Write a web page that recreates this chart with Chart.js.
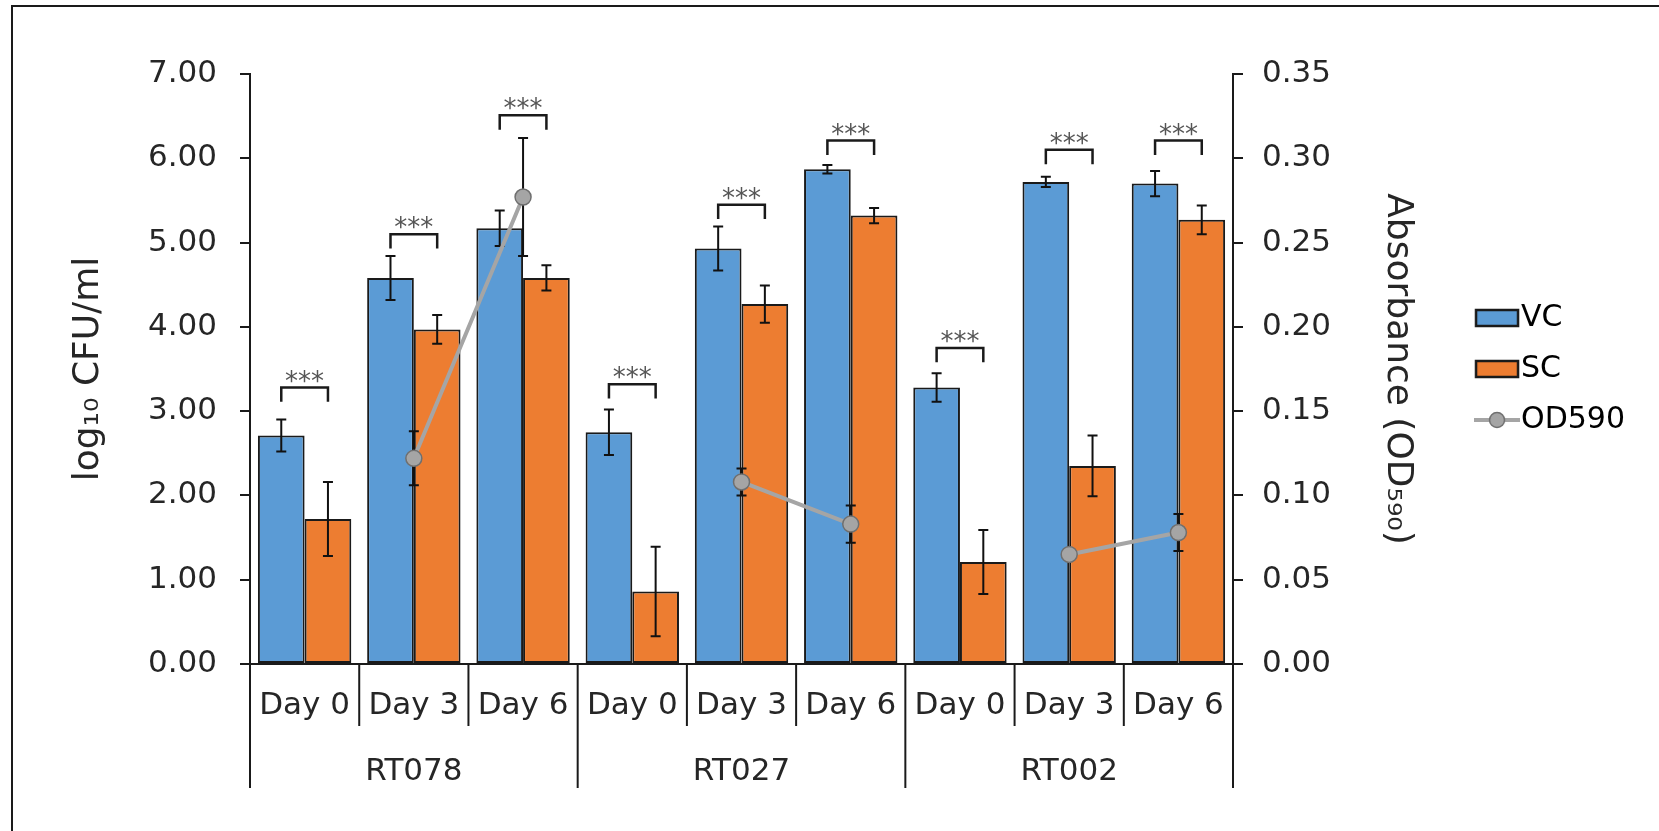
<!DOCTYPE html>
<html>
<head>
<meta charset="utf-8">
<script src="https://cdn.jsdelivr.net/npm/chart.js@4"></script>
<style>
  body { margin: 0; background: #fff; }
  #wrap { position: relative; width: 1659px; height: 831px; }
  #frame { position: absolute; left: 11px; top: 5px; width: 1648px; height: 826px;
           border-left: 2px solid #1a1a1a; border-top: 2px solid #1a1a1a; box-sizing: border-box; }
  canvas { position: absolute; left: 0; top: 0; }
</style>
</head>
<body>
<div id="wrap">
  <div id="frame"></div>
  <canvas id="chart" width="1659" height="831"></canvas>
</div>
<script>
const CATEGORIES = ['Day 0', 'Day 3', 'Day 6', 'Day 0', 'Day 3', 'Day 6', 'Day 0', 'Day 3', 'Day 6'];
const GROUPS = ['RT078', 'RT027', 'RT002'];

// log10 CFU/ml
const VC_MEAN = [2.71, 4.58, 5.17, 2.75, 4.93, 5.87, 3.28, 5.72, 5.70];
const VC_ERR  = [0.19, 0.26, 0.21, 0.27, 0.26, 0.05, 0.17, 0.06, 0.15];
const SC_MEAN = [1.72, 3.97, 4.58, 0.86, 4.27, 5.32, 1.21, 2.35, 5.27];
const SC_ERR  = [0.44, 0.17, 0.15, 0.53, 0.22, 0.09, 0.38, 0.36, 0.17];

// OD590 (right axis)
const OD_MEAN = [null, 0.122, 0.277, null, 0.108, 0.083, null, 0.065, 0.078];
const OD_ERR  = [0, 0.016, 0.035, 0, 0.008, 0.011, 0, 0, 0.011];

// significance brackets (top of bracket, left axis units)
const SIG_TOP   = [3.28, 5.10, 6.51, 3.32, 5.45, 6.21, 3.75, 6.10, 6.21];
const SIG_LABEL = ['***', '***', '***', '***', '***', '***', '***', '***', '***'];

const BLUE = '#5B9BD5';
const ORANGE = '#ED7D31';
const GREY = '#A5A5A5';
const INK = '#262626';
const FONT = 'DejaVu Sans';

Chart.defaults.font.family = FONT;
Chart.defaults.color = INK;

function makeIcon(kind) {
    const c = document.createElement('canvas');
    c.width = 46; c.height = 22;
    const g = c.getContext('2d');
    if (kind === 'line') {
        g.strokeStyle = GREY; g.lineWidth = 4;
        g.beginPath(); g.moveTo(0, 11); g.lineTo(46, 11); g.stroke();
        g.fillStyle = GREY; g.strokeStyle = '#6f6f6f'; g.lineWidth = 1.5;
        g.beginPath(); g.arc(23, 11, 7.5, 0, Math.PI * 2); g.fill(); g.stroke();
    } else {
        g.fillStyle = kind;
        g.fillRect(2, 3, 42, 16);
        g.strokeStyle = '#1a1a1a'; g.lineWidth = 2.5;
        g.strokeRect(2, 3, 42, 16);
    }
    return c;
}

const icons = [makeIcon(BLUE), makeIcon(ORANGE), makeIcon('line')];

function drawErr(ctx, x, yTop, yBot) {
    ctx.beginPath();
    ctx.moveTo(x, yTop); ctx.lineTo(x, yBot);
    ctx.moveTo(x - 5, yTop); ctx.lineTo(x + 5, yTop);
    ctx.moveTo(x - 5, yBot); ctx.lineTo(x + 5, yBot);
    ctx.stroke();
}

const extrasPlugin = {
    id: 'extras',
    beforeDatasetDraw(chart, args) {
        // OD error bars sit under the line points
        if (args.index !== 2) return;
        const ctx = chart.ctx;
        const y2 = chart.scales.y2;
        const meta = chart.getDatasetMeta(2);
        ctx.save();
        ctx.strokeStyle = '#111'; ctx.lineWidth = 2;
        OD_MEAN.forEach((v, i) => {
            if (v === null || !OD_ERR[i]) return;
            drawErr(ctx, meta.data[i].x, y2.getPixelForValue(v + OD_ERR[i]), y2.getPixelForValue(v - OD_ERR[i]));
        });
        ctx.restore();
    },
    afterDatasetDraw(chart, args) {
        if (args.index > 1) return;
        const ctx = chart.ctx;
        const y = chart.scales.y;
        const meta = chart.getDatasetMeta(args.index);
        const means = args.index === 0 ? VC_MEAN : SC_MEAN;
        const errs = args.index === 0 ? VC_ERR : SC_ERR;
        ctx.save();
        ctx.strokeStyle = '#111'; ctx.lineWidth = 2;
        means.forEach((v, i) => {
            drawErr(ctx, meta.data[i].x, y.getPixelForValue(v + errs[i]), y.getPixelForValue(v - errs[i]));
        });
        ctx.restore();
    },
    afterDraw(chart) {
        const ctx = chart.ctx;
        const xs = chart.scales.x;
        const y = chart.scales.y;
        const vcMeta = chart.getDatasetMeta(0);
        const scMeta = chart.getDatasetMeta(1);
        ctx.save();

        // significance brackets
        ctx.strokeStyle = '#1a1a1a'; ctx.lineWidth = 2.5;
        ctx.fillStyle = '#555';
        ctx.font = '26px ' + FONT;
        ctx.textAlign = 'center'; ctx.textBaseline = 'alphabetic';
        SIG_TOP.forEach((top, i) => {
            const x1 = vcMeta.data[i].x, x2 = scMeta.data[i].x;
            const yt = y.getPixelForValue(top), yb = y.getPixelForValue(top - 0.17);
            ctx.beginPath();
            ctx.moveTo(x1, yb); ctx.lineTo(x1, yt); ctx.lineTo(x2, yt); ctx.lineTo(x2, yb);
            ctx.stroke();
            ctx.fillText(SIG_LABEL[i], (x1 + x2) / 2, yt + 2);
        });

        // category separators and group labels
        const n = CATEGORIES.length;
        const bounds = [];
        for (let i = 0; i <= n; i++) {
            if (i === 0) bounds.push(xs.left);
            else if (i === n) bounds.push(xs.right);
            else bounds.push((xs.getPixelForValue(i - 1) + xs.getPixelForValue(i)) / 2);
        }
        const base = chart.chartArea.bottom;
        ctx.strokeStyle = '#1a1a1a'; ctx.lineWidth = 2;
        bounds.forEach((bx, i) => {
            ctx.beginPath();
            ctx.moveTo(bx, base);
            ctx.lineTo(bx, base + (i % 3 === 0 ? 124 : 62));
            ctx.stroke();
        });
        ctx.fillStyle = INK;
        ctx.font = '31px ' + FONT;
        GROUPS.forEach((g, k) => {
            ctx.fillText(g, (bounds[k * 3] + bounds[k * 3 + 3]) / 2, base + 116);
        });
        ctx.restore();
    }
};

new Chart(document.getElementById('chart'), {
    type: 'bar',
    data: {
        labels: CATEGORIES,
        datasets: [
            { label: 'VC', data: VC_MEAN, backgroundColor: BLUE, borderColor: '#1a1a1a', borderWidth: 2,
              borderSkipped: false, yAxisID: 'y', order: 1, barPercentage: 1, categoryPercentage: 0.855 },
            { label: 'SC', data: SC_MEAN, backgroundColor: ORANGE, borderColor: '#1a1a1a', borderWidth: 2,
              borderSkipped: false, yAxisID: 'y', order: 1, barPercentage: 1, categoryPercentage: 0.855 },
            { type: 'line', label: 'OD590', data: OD_MEAN, yAxisID: 'y2', order: 0,
              borderColor: GREY, borderWidth: 4, spanGaps: false,
              pointRadius: 8, pointBackgroundColor: GREY, pointBorderColor: '#6f6f6f', pointBorderWidth: 1.5 }
        ]
    },
    options: {
        responsive: false,
        animation: false,
        devicePixelRatio: 1,
        layout: { padding: { top: 74, right: 24, bottom: 0, left: 0 } },
        plugins: {
            tooltip: { enabled: false },
            legend: {
                position: 'right',
                align: 'center',
                fullSize: false,
                labels: {
                    usePointStyle: true,
                    pointStyleWidth: 18,
                    padding: 21,
                    color: INK,
                    font: { size: 30, family: FONT },
                    generateLabels: () => ['VC', 'SC', 'OD590'].map((t, i) => ({
                        text: t, pointStyle: icons[i], datasetIndex: i, hidden: false,
                        fillStyle: 'transparent', strokeStyle: 'transparent', lineWidth: 0
                    }))
                }
            }
        },
        scales: {
            x: {
                grid: { display: false },
                border: { display: true, color: '#1a1a1a', width: 2 },
                ticks: { font: { size: 31 }, color: INK, padding: 15, maxRotation: 0, minRotation: 0, autoSkip: false },
                afterFit: (s) => { s.height = 167; }
            },
            y: {
                position: 'left',
                min: 0, max: 7,
                ticks: { stepSize: 1, font: { size: 31 }, color: INK, padding: 23, callback: (v) => v.toFixed(2) },
                grid: { drawOnChartArea: false, tickLength: 10, color: '#1a1a1a', lineWidth: 2 },
                border: { display: true, color: '#1a1a1a', width: 2 },
                title: { display: true, text: 'log₁₀ CFU/ml', font: { size: 36 }, color: INK, padding: { top: 67, bottom: 0 } },
                afterFit: (s) => { s.width = 250; }
            },
            y2: {
                position: 'right',
                min: 0, max: 0.35,
                ticks: { stepSize: 0.05, font: { size: 31 }, color: INK, padding: 19, callback: (v) => v.toFixed(2) },
                grid: { drawOnChartArea: false, tickLength: 10, color: '#1a1a1a', lineWidth: 2 },
                border: { display: true, color: '#1a1a1a', width: 2 },
                title: { display: true, text: 'Absorbance (OD₅₉₀)', font: { size: 36 }, color: INK, padding: { top: 48, bottom: 0 } },
                afterFit: (s) => { s.width = 234; }
            }
        }
    },
    plugins: [extrasPlugin]
});
</script>
</body>
</html>
